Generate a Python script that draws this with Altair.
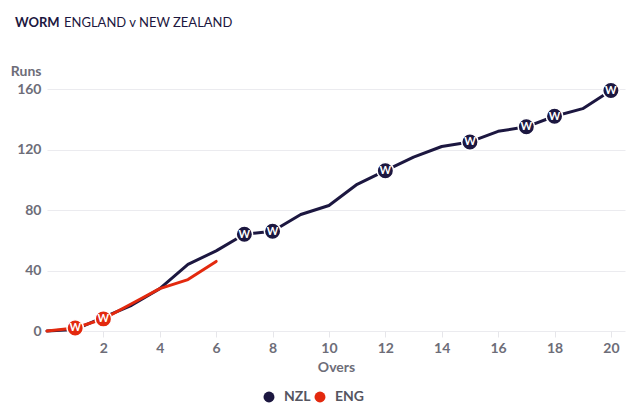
import altair as alt
import pandas as pd

# Runs at the end of each over
overs_nzl = list(range(0, 21))
runs_nzl = [0, 1, 9, 17, 28, 44, 53, 64, 66, 77, 83, 97, 106, 115, 122, 125, 132, 135, 142, 147, 159]
wkt_overs_nzl = [7, 8, 12, 15, 17, 18, 20]

overs_eng = list(range(0, 7))
runs_eng = [0, 2, 8, 18, 28, 34, 46]
wkt_overs_eng = [1, 2]

teams = ["NZL", "ENG"]
team_colors = ["#1c1740", "#e3290e"]

rows = []
for o, r in zip(overs_nzl, runs_nzl):
    rows.append({"team": "NZL", "over": o, "runs": r, "wicket": o in wkt_overs_nzl})
for o, r in zip(overs_eng, runs_eng):
    rows.append({"team": "ENG", "over": o, "runs": r, "wicket": o in wkt_overs_eng})
df = pd.DataFrame(rows)

FONT = "Lato"
AXIS_GREY = "#6d6d78"

color = alt.Color(
    "team:N",
    scale=alt.Scale(domain=teams, range=team_colors),
    sort=teams,
    legend=alt.Legend(
        title=None,
        orient="none",
        direction="horizontal",
        legendX=215,
        legendY=301,
        symbolType="circle",
        symbolSize=120,
        symbolStrokeWidth=0,
        labelFont=FONT,
        labelFontSize=14,
        labelFontWeight="bold",
        labelColor="#55555f",
        columnPadding=2,
        labelOffset=8,
    ),
)

x = alt.X(
    "over:Q",
    scale=alt.Scale(domain=[0, 20.5], nice=False),
    axis=alt.Axis(
        values=[2, 4, 6, 8, 10, 12, 14, 16, 18, 20],
        title="Overs",
        titleFont=FONT,
        titleFontSize=14,
        titleFontWeight="bold",
        titleColor=AXIS_GREY,
        titlePadding=5,
        labelFont=FONT,
        labelFontSize=14,
        labelFontWeight="bold",
        labelColor=AXIS_GREY,
        labelPadding=4,
        domain=False,
        ticks=True,
        tickColor="#e6e6ea",
        tickSize=6,
        grid=False,
    ),
)

y = alt.Y(
    "runs:Q",
    scale=alt.Scale(domain=[0, 160], nice=False),
    axis=alt.Axis(
        values=[0, 40, 80, 120, 160],
        title="Runs",
        titleAngle=0,
        titleAlign="right",
        titleBaseline="middle",
        titleX=-6,
        titleY=-18,
        titleFont=FONT,
        titleFontSize=14,
        titleFontWeight="bold",
        titleColor=AXIS_GREY,
        labelFont=FONT,
        labelFontSize=14,
        labelFontWeight="bold",
        labelColor=AXIS_GREY,
        labelPadding=6,
        domain=False,
        ticks=False,
        grid=True,
        gridColor="#ebebef",
        gridWidth=1,
    ),
)

base = alt.Chart(df)

lines = base.mark_line(strokeWidth=3, strokeJoin="round", strokeCap="round").encode(
    x=x, y=y, color=color, detail="team:N", order="over:Q"
)

wickets = base.transform_filter(alt.datum.wicket).mark_point(
    filled=True, size=270, shape="circle", stroke="white", strokeWidth=1.5, opacity=1
).encode(
    x="over:Q",
    y="runs:Q",
    fill=alt.Fill("team:N", scale=alt.Scale(domain=teams, range=team_colors), legend=None),
)

wicket_text = base.transform_filter(alt.datum.wicket).mark_text(
    text="W", color="white", font=FONT, fontSize=11, fontWeight="bold",
    baseline="middle", align="center", dy=0.5
).encode(x="over:Q", y="runs:Q")

heading = alt.Chart(pd.DataFrame({"t": ["WORM"]})).mark_text(
    font=FONT, fontSize=13, fontWeight="bold", color="#1c1740", align="left", baseline="alphabetic"
).encode(x=alt.value(-32), y=alt.value(-62), text="t:N")

subheading = alt.Chart(pd.DataFrame({"t": ["ENGLAND v NEW ZEALAND"]})).mark_text(
    font=FONT, fontSize=13, color="#1c1740", align="left", baseline="alphabetic"
).encode(x=alt.value(17), y=alt.value(-62), text="t:N")

chart = (
    alt.layer(lines, wickets, wicket_text, heading, subheading)
    .properties(
        width=578,
        height=242,
        autosize=alt.AutoSizeParams(type="none"),
        padding={"left": 47, "top": 89, "right": 15, "bottom": 84},
        background="white",
    )
    .configure_view(stroke=None)
)

chart.save("out.html", embed_options={"renderer": "svg", "actions": False})
